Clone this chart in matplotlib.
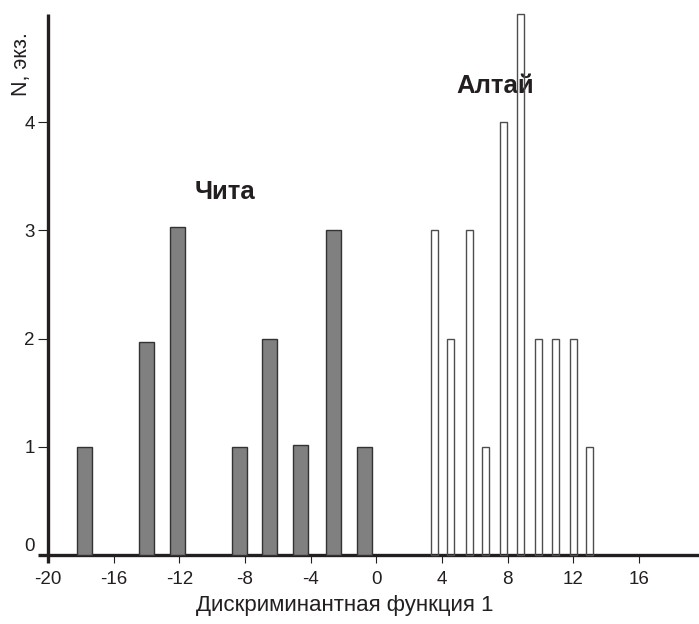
"""
Histogram of discriminant function 1 scores for two samples (Chita vs Altai).
"""

import matplotlib.pyplot as plt

plt.rcParams["font.family"] = ["Liberation Sans", "DejaVu Sans"]

# Chita (dark bars): bin centres and counts
chita_x = [-17.75, -14.0, -12.14, -8.34, -6.5, -4.6, -2.64, -0.72]
chita_n = [1, 1.97, 3.03, 1, 2, 1.02, 3, 1]

# Altai (open bars)
altai_x = [3.53, 4.5, 5.66, 6.64, 7.72, 8.8, 9.87, 10.89, 11.98, 12.96]
altai_n = [3, 2, 3, 1, 4, 5, 2, 2, 2, 1]

x_ticks = [-20, -16, -12, -8, -4, 0, 4, 8, 12, 16]
y_ticks = [0, 1, 2, 3, 4]

ink = "#231f20"

W, H = 699, 624
fig = plt.figure(figsize=(W / 100, H / 100), dpi=100)
ax = fig.add_axes([38 / W, (H - 563) / H, (W - 38) / W, (563 - 14) / H])

ax.bar(chita_x, chita_n, width=0.91, color="#808080", edgecolor="#333333",
       linewidth=1.0, zorder=3, clip_on=False)
ax.bar(altai_x, altai_n, width=0.42, facecolor="none", edgecolor="#4d4d4d",
       linewidth=1.0, zorder=3, clip_on=False)

ax.text(-9.22, 3.35, "Чита", fontsize=18.5, fontweight="bold", color=ink,
        ha="center", va="center", zorder=2)
ax.text(7.25, 4.33, "Алтай", fontsize=18.5, fontweight="bold", color=ink,
        ha="center", va="center", zorder=2)

ax.set_xlim(-20.61, 19.65)
ax.set_ylim(-0.075, 5.0)

for side in ("top", "right"):
    ax.spines[side].set_visible(False)
ax.spines["left"].set_position(("data", -20))
ax.spines["bottom"].set_position(("data", 0))
for side in ("left", "bottom"):
    ax.spines[side].set_linewidth(2.4)
    ax.spines[side].set_color(ink)
    ax.spines[side].set_capstyle("butt")

ax.set_xticks(x_ticks)
ax.set_xticklabels([str(v) for v in x_ticks])
ax.set_yticks(y_ticks)
ax.set_yticklabels([str(v) for v in y_ticks])
ax.tick_params(axis="x", direction="out", length=5.8, width=0.8, color=ink,
               labelsize=13.5, labelcolor=ink, pad=5.5)
ax.tick_params(axis="y", direction="out", length=7, width=0.8, color=ink,
               labelsize=13.5, labelcolor=ink, pad=2.5)

# the -20 / 0 ticks sit on the other spine
ax.xaxis.get_major_ticks()[0].tick1line.set_visible(False)
ax.yaxis.get_major_ticks()[0].tick1line.set_visible(False)
ax.get_yticklabels()[0].set_va("bottom")

fig.text(345 / W, 1 - 605 / H, "Дискриминантная функция 1", fontsize=16,
         color=ink, ha="center", va="center")
fig.text(22 / W, 1 - 32 / H, "N, экз.", fontsize=15.5, color=ink,
         rotation=90, ha="center", va="top")

fig.savefig("out.png", dpi=100)
